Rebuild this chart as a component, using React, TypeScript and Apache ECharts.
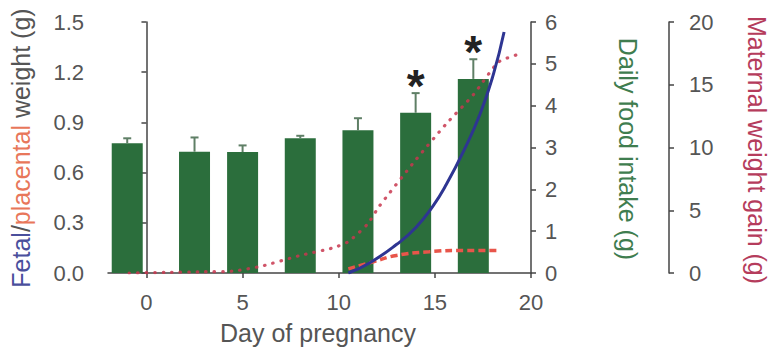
import React, { useEffect, useRef } from "react";
import * as echarts from "echarts";

// Daily food intake bars (g), right-hand inner axis
const barDays = [-1, 2.5, 5, 8, 11, 14, 17];
const foodIntake = [3.1, 2.9, 2.89, 3.22, 3.41, 3.83, 4.64];
const foodErr = [0.12, 0.34, 0.16, 0.06, 0.29, 0.47, 0.47];
const significant = [0, 0, 0, 0, 0, 1, 1];

// Fetal weight (g), left axis
const fetalDays = [10.5, 11.6, 13.0, 14.0, 14.9, 15.6, 16.5, 17.35, 18.05, 18.6];
const fetalWeight = [0, 0.06, 0.17, 0.27, 0.4, 0.53, 0.73, 0.95, 1.19, 1.44];

// Placental weight (g), left axis
const placentalDays = [10.5, 11.8, 13.0, 14.7, 16.5, 18.3];
const placentalWeight = [0.025, 0.067, 0.105, 0.127, 0.135, 0.135];

// Maternal weight gain (g), outer right axis
const maternalDays = [-0.9, 1, 3, 4.5, 6, 8, 9.7, 10.5, 11.5, 12.1, 14, 15.6, 17, 18.3, 19.3];
const maternalGain = [0, 0.05, 0.1, 0.15, 0.55, 1.4, 2.0, 2.5, 3.9, 5.3, 9.0, 11.9, 14.2, 16.8, 17.4];

const xTicks = [0, 5, 10, 15, 20];

const FONT = "'Liberation Sans', Arial, sans-serif";
const AXIS_COLOR = "#444";
const LABEL_COLOR = "#555";

export default function App() {
  const ref = useRef<HTMLDivElement>(null);

  useEffect(() => {
    if (!ref.current) return;
    const chart = echarts.init(ref.current, null, { renderer: "svg" });

    const axisCommon = {
      axisLine: { show: true, lineStyle: { color: AXIS_COLOR, width: 1.5 } },
      axisTick: { show: true, length: 5, lineStyle: { color: AXIS_COLOR, width: 1.5 } },
      splitLine: { show: false },
    };
    const labelCommon = { color: LABEL_COLOR, fontSize: 22, fontFamily: FONT };

    chart.setOption({
      animation: false,
      backgroundColor: "#fff",
      grid: { left: 108, right: 239, top: 22, bottom: 77 },
      xAxis: {
        type: "value",
        min: -2,
        max: 20,
        ...axisCommon,
        axisTick: { ...axisCommon.axisTick, customValues: xTicks },
        axisLabel: { ...labelCommon, margin: 18, customValues: xTicks },
      },
      yAxis: [
        {
          type: "value",
          position: "left",
          min: 0,
          max: 1.5,
          interval: 0.3,
          ...axisCommon,
          axisLabel: { ...labelCommon, margin: 24, formatter: (v: number) => v.toFixed(1) },
        },
        {
          type: "value",
          position: "right",
          offset: 0,
          min: 0,
          max: 6,
          interval: 1,
          ...axisCommon,
          axisLabel: { ...labelCommon, margin: 14 },
        },
        {
          type: "value",
          position: "right",
          offset: 138,
          min: 0,
          max: 20,
          interval: 5,
          ...axisCommon,
          axisLabel: { ...labelCommon, margin: 20 },
        },
      ],
      series: [
        {
          type: "bar",
          yAxisIndex: 1,
          barWidth: 31,
          itemStyle: { color: "#2b6e3c" },
          data: barDays.map((d, i) => [d, foodIntake[i]]),
          z: 2,
        },
        {
          type: "custom",
          yAxisIndex: 1,
          encode: { x: 0, y: 1 },
          data: barDays.map((d, i) => [d, foodIntake[i], foodErr[i], significant[i]]),
          renderItem: (params: any, api: any) => {
            const x = api.value(0);
            const top = api.value(1);
            const err = api.value(2);
            const sig = api.value(3);
            const p0 = api.coord([x, top]);
            const p1 = api.coord([x, top + err]);
            const stroke = { stroke: "#5f7f66", lineWidth: 2 };
            const children: any[] = [
              { type: "line", shape: { x1: p0[0], y1: p0[1], x2: p1[0], y2: p1[1] }, style: stroke },
              { type: "line", shape: { x1: p1[0] - 4, y1: p1[1], x2: p1[0] + 4, y2: p1[1] }, style: stroke },
            ];
            if (sig) {
              // significance mark above the error bar
              children.push({
                type: "text",
                x: p1[0],
                y: p1[1] + 16,
                style: {
                  text: "*",
                  fill: "#222",
                  fontSize: 46,
                  fontWeight: "bold",
                  fontFamily: FONT,
                  align: "center",
                  verticalAlign: "bottom",
                },
              });
            }
            return { type: "group", children };
          },
          z: 3,
        },
        {
          type: "line",
          yAxisIndex: 2,
          data: maternalDays.map((d, i) => [d, maternalGain[i]]),
          smooth: 0.2,
          symbol: "none",
          lineStyle: { color: "#c8374f", width: 3.2, type: [0.5, 8], cap: "round", opacity: 0.85 },
          z: 4,
        },
        {
          type: "line",
          yAxisIndex: 0,
          data: placentalDays.map((d, i) => [d, placentalWeight[i]]),
          smooth: true,
          symbol: "none",
          lineStyle: { color: "#e8554a", width: 3.5, type: [7, 4] },
          z: 5,
        },
        {
          type: "line",
          yAxisIndex: 0,
          data: fetalDays.map((d, i) => [d, fetalWeight[i]]),
          smooth: true,
          symbol: "none",
          lineStyle: { color: "#2e3592", width: 3 },
          z: 6,
        },
      ],
      graphic: [
        {
          type: "text",
          x: 21,
          y: 148,
          rotation: Math.PI / 2,
          style: {
            text: "{f|Fetal}{s|/}{p|placental}{w| weight (g)}",
            align: "center",
            verticalAlign: "middle",
            fontSize: 25,
            fontFamily: FONT,
            rich: {
              f: { fill: "#4a4f9c", fontSize: 25, fontFamily: FONT },
              s: { fill: "#555", fontSize: 25, fontFamily: FONT },
              p: { fill: "#e8775a", fontSize: 25, fontFamily: FONT },
              w: { fill: "#555", fontSize: 25, fontFamily: FONT },
            },
          },
        },
        {
          type: "text",
          x: 628,
          y: 149,
          rotation: -Math.PI / 2,
          style: {
            text: "Daily food intake (g)",
            fill: "#3f7d4f",
            fontSize: 25,
            fontFamily: FONT,
            align: "center",
            verticalAlign: "middle",
          },
        },
        {
          type: "text",
          x: 757,
          y: 150,
          rotation: -Math.PI / 2,
          style: {
            text: "Maternal weight gain (g)",
            fill: "#b53c5c",
            fontSize: 25,
            fontFamily: FONT,
            align: "center",
            verticalAlign: "middle",
          },
        },
        {
          type: "text",
          x: 318,
          y: 333,
          style: {
            text: "Day of pregnancy",
            fill: "#555",
            fontSize: 25,
            fontFamily: FONT,
            align: "center",
            verticalAlign: "middle",
          },
        },
      ],
    });

    return () => chart.dispose();
  }, []);

  return (
    <div
      ref={ref}
      style={{ position: "fixed", left: 0, top: 0, width: 770, height: 350 }}
    />
  );
}
